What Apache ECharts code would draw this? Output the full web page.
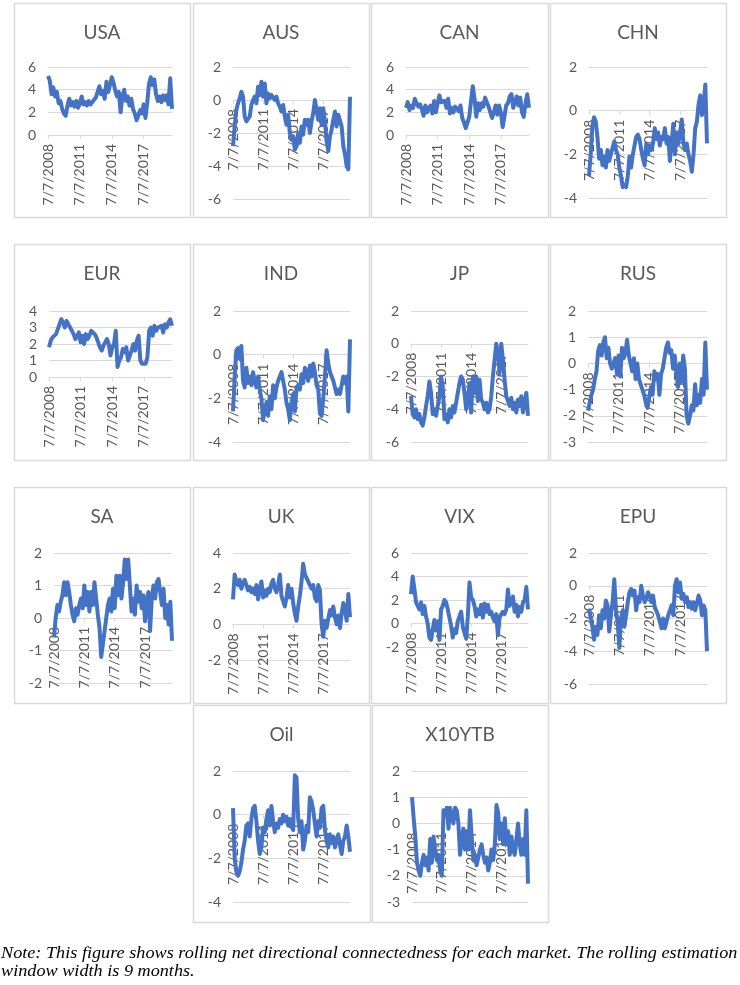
<!DOCTYPE html>
<html><head><meta charset="utf-8">
<script src="https://cdn.jsdelivr.net/npm/echarts@6/dist/echarts.min.js"></script>
<style>html,body{margin:0;padding:0;background:#fff;} #c{width:740px;height:985px;}</style>
</head><body><div id="c"></div>
<script>
// ---- data ----
const categories = ("7/7/2008 9/7/2008 11/7/2008 " +
 "1/7/2009 3/7/2009 5/7/2009 7/7/2009 9/7/2009 11/7/2009 " +
 "1/7/2010 3/7/2010 5/7/2010 7/7/2010 9/7/2010 11/7/2010 " +
 "1/7/2011 3/7/2011 5/7/2011 7/7/2011 9/7/2011 11/7/2011 " +
 "1/7/2012 3/7/2012 5/7/2012 7/7/2012 9/7/2012 11/7/2012 " +
 "1/7/2013 3/7/2013 5/7/2013 7/7/2013 9/7/2013 11/7/2013 " +
 "1/7/2014 3/7/2014 5/7/2014 7/7/2014 9/7/2014 11/7/2014 " +
 "1/7/2015 3/7/2015 5/7/2015 7/7/2015 9/7/2015 11/7/2015 " +
 "1/7/2016 3/7/2016 5/7/2016 7/7/2016 9/7/2016 11/7/2016 " +
 "1/7/2017 3/7/2017 5/7/2017 7/7/2017 9/7/2017 11/7/2017 " +
 "1/7/2018 3/7/2018 5/7/2018 7/7/2018 9/7/2018 11/7/2018 " +
 "1/7/2019 3/7/2019 5/7/2019 7/7/2019 9/7/2019 11/7/2019 " +
 "1/7/2020 3/7/2020").split(" ");
const tickLabels = ["7/7/2008", "7/7/2011", "7/7/2014", "7/7/2017"];

const usa = [5.2,4.8,3.6,4.2,3.4,3.8,2.8,3.0,2.3,1.9,1.7,2.6,3.2,2.6,2.9,2.5,3.0,2.4,2.8,3.4,2.7,2.9,2.6,3.0,2.7,2.9,2.8,3.3,3.8,4.3,3.6,3.9,3.2,4.7,3.8,4.4,5.1,4.6,3.9,3.4,3.8,2.0,3.4,4.0,3.0,3.4,2.6,3.2,2.3,1.9,1.3,1.7,2.2,1.9,2.7,1.5,2.8,4.5,5.1,4.4,4.9,3.6,3.0,3.4,2.9,3.5,3.1,3.5,2.7,5.0,2.3];
const aus = [-2.8,-1.6,-0.6,-0.2,0.1,0.5,0.2,-1.0,-1.3,-1.4,-1.0,-0.3,0.0,0.2,-0.2,0.8,0.3,1.1,0.2,1.0,-0.2,0.4,0.1,0.3,0.4,0.0,0.2,-0.2,-0.4,-0.7,-0.3,-1.0,-1.5,-0.9,-2.0,-2.4,-2.2,-3.0,-2.8,-2.0,-2.6,-1.6,-2.1,-1.2,-1.5,-1.2,-2.0,-1.3,-0.8,0.0,-0.6,-1.2,-0.5,-1.5,-0.5,-1.3,-2.5,-3.1,-2.2,-1.8,-1.2,-0.7,-1.6,-0.9,-1.0,-1.6,-2.8,-3.3,-4.0,-4.2,0.2];
const can = [2.4,2.9,2.2,2.6,2.4,3.2,2.8,2.5,2.7,2.3,1.7,2.6,2.0,2.4,2.6,1.9,3.0,2.0,2.8,3.5,2.9,2.8,3.0,2.4,3.2,1.9,2.4,2.0,2.5,2.4,2.1,2.6,1.5,1.1,0.6,0.5,1.6,3.0,4.3,3.2,1.6,2.8,2.2,2.8,2.5,3.3,3.4,2.5,2.0,1.5,2.0,2.6,1.8,2.6,2.0,0.7,1.6,2.6,2.8,3.4,3.6,2.4,2.9,3.4,2.6,3.3,2.0,1.6,2.8,3.6,2.4];
const chn = [-3.0,-2.0,-0.7,-0.3,-0.5,-1.2,-2.2,-1.8,-2.5,-2.1,-2.6,-1.8,-2.3,-2.0,-1.7,-1.4,-1.8,-2.0,-2.6,-3.0,-3.5,-3.4,-3.5,-3.0,-2.1,-2.6,-2.0,-1.6,-1.2,-1.1,-1.3,-1.8,-2.2,-2.5,-1.5,-2.0,-1.6,-1.8,-1.5,-0.8,-1.3,-1.0,-1.6,-1.2,-1.3,-0.8,-1.5,-1.2,-2.3,-1.5,-0.6,-2.0,-1.0,-1.5,-1.0,-0.4,-1.5,-1.8,-1.5,-2.0,-2.3,-2.8,-2.0,-0.8,-0.5,0.3,0.7,-0.2,0.3,1.2,-1.5];
const eur = [1.8,2.2,2.4,2.5,2.6,2.9,3.2,3.5,3.3,3.0,3.4,3.3,3.0,2.8,2.6,2.3,2.2,2.7,2.1,2.5,2.0,2.6,2.3,2.5,2.8,2.7,2.6,2.4,2.1,1.8,1.6,1.9,1.8,2.3,2.0,1.3,1.8,2.0,2.8,0.6,1.0,1.2,1.7,1.5,1.8,1.0,1.3,1.6,2.0,1.6,2.2,2.5,1.0,0.8,0.7,0.8,1.2,2.8,3.0,2.5,3.1,2.8,3.0,2.9,3.1,2.7,3.2,3.0,3.3,3.5,3.1];
const ind = [-2.6,-1.0,0.2,0.3,-0.2,0.4,-1.2,-1.5,-0.6,-1.3,-1.0,-1.4,-0.8,-1.2,-1.5,-1.0,-1.6,-2.0,-3.0,-2.5,-2.2,-2.8,-1.9,-2.5,-1.4,-2.0,-1.5,-1.2,-1.0,-0.8,-1.2,-1.6,-2.2,-2.5,-3.0,-2.2,-1.8,-2.6,-1.5,-1.4,-1.6,-0.9,-1.3,-0.6,-0.8,-1.2,-0.5,-1.0,-0.4,-0.8,-1.4,-1.6,-2.7,-2.8,-2.0,-1.0,0.2,-0.4,-0.8,-1.0,-1.2,-1.5,-1.8,-1.6,-1.8,-1.4,-1.0,-1.3,-1.0,-2.6,0.7];
const jp = [-3.2,-4.3,-4.5,-4.0,-4.6,-4.3,-4.8,-5.0,-4.5,-3.8,-3.2,-2.3,-3.0,-4.3,-4.0,-4.4,-3.8,-3.2,-2.0,-2.6,-4.6,-4.3,-4.8,-4.0,-4.5,-3.8,-4.2,-3.6,-3.0,-2.4,-2.0,-2.2,-3.0,-4.0,-3.4,-2.4,-4.2,-2.0,-3.0,-2.0,-3.5,-2.2,-3.4,-3.6,-4.0,-3.6,-4.2,-4.0,-3.2,-2.0,-1.0,0.0,-0.5,-1.8,0.0,-1.0,-2.2,-3.2,-3.5,-3.8,-3.3,-4.0,-3.6,-4.2,-3.4,-3.8,-3.2,-4.2,-3.5,-3.0,-4.4];
const rus = [-1.8,-1.5,-1.2,-1.0,-0.6,-0.3,0.5,0.7,0.3,0.8,1.0,0.2,0.6,0.0,-0.2,0.0,0.2,-0.4,0.3,-0.5,0.6,0.2,0.4,0.9,0.3,0.0,-0.3,0.2,-0.6,0.0,-0.6,-0.8,-1.0,-1.2,-1.5,-1.7,-1.3,-0.9,-1.2,-0.3,-0.6,-0.4,-1.2,-0.4,-0.2,0.2,0.6,0.8,0.4,0.5,-0.2,0.3,-0.4,-0.9,0.0,-0.7,0.3,-0.2,-2.0,-2.3,-2.0,-1.6,-1.8,-0.8,-1.6,-1.2,-1.5,-0.6,-1.2,0.8,-1.0];
const sa = [-0.6,0.0,0.4,0.2,0.5,0.7,1.1,0.7,1.1,0.8,0.4,0.1,-0.1,0.3,0.1,0.4,0.6,0.3,1.0,0.4,0.8,0.2,0.8,0.4,1.1,0.6,0.1,-0.3,-1.2,-0.8,-0.4,0.0,0.4,0.6,0.2,0.9,0.3,1.3,0.7,1.3,0.6,1.1,1.8,1.2,1.8,1.0,0.2,0.6,0.1,1.0,0.5,0.8,0.3,0.7,-0.1,0.5,0.8,-0.4,0.6,1.0,0.6,1.1,1.2,0.8,0.4,0.9,0.0,0.4,-0.2,0.5,-0.7];
const uk = [1.4,2.8,2.4,2.2,2.5,2.0,2.3,2.5,2.2,1.9,2.1,1.8,2.0,1.7,2.2,1.4,2.0,2.4,1.5,1.9,1.6,2.0,1.8,2.3,2.5,2.0,1.8,2.2,2.8,1.6,1.3,1.0,1.5,2.2,1.5,2.0,1.2,0.6,0.2,1.0,1.6,2.4,3.4,2.8,2.6,2.4,2.5,2.0,2.2,1.5,1.3,2.2,1.9,0.0,-0.7,0.2,-0.2,0.3,0.8,0.5,1.0,0.4,0.0,0.5,-0.2,0.6,1.2,0.8,0.2,1.7,0.4];
const vix = [2.5,4.0,3.0,1.8,1.5,1.2,1.8,0.8,1.5,0.6,0.0,-1.2,-1.4,-0.5,0.3,-0.6,0.2,-1.4,1.2,1.5,2.0,1.8,1.2,0.5,-0.2,-1.2,-0.5,-0.8,0.2,0.6,1.0,-0.3,-0.2,-1.3,0.6,3.5,2.2,2.0,1.5,0.6,1.2,0.8,1.6,0.5,1.7,1.0,1.6,0.8,1.0,0.5,0.2,0.8,-1.0,0.5,0.8,1.0,0.8,1.2,2.9,1.5,1.8,2.3,1.0,1.6,0.6,1.4,1.0,1.8,2.0,3.1,1.2];
const epu = [-1.4,-1.5,-2.5,-3.3,-2.5,-3.0,-1.8,-2.6,-1.5,-2.0,-0.9,-1.2,-2.8,-1.8,-1.0,0.4,-1.5,-2.2,-3.8,-2.0,-1.5,-2.5,-1.8,-1.0,-0.4,-0.2,-0.6,-0.3,-1.5,-0.7,-1.0,0.0,-0.6,-1.0,-0.8,-0.4,-0.6,-1.0,-0.6,-1.3,-1.2,-1.8,-2.2,-2.6,-2.0,-2.6,-2.2,-1.8,-1.5,-1.2,-1.8,0.0,0.4,-0.4,0.2,-0.8,-0.5,-1.0,-0.7,-1.3,-1.0,-1.4,-1.0,-1.5,-1.1,-0.6,-0.9,-1.8,-1.2,-1.5,-4.0];
const oil = [0.3,-2.0,-2.6,-2.8,-2.6,-2.2,-1.6,-1.2,-0.5,-0.4,-1.0,-0.2,0.3,0.4,-0.3,-1.2,-1.8,-1.5,-0.6,-0.8,-0.2,0.2,-0.5,0.4,-0.3,-0.8,-0.4,-0.6,-0.2,-0.4,0.0,-0.3,-0.1,-0.5,-0.2,-0.5,-0.7,1.8,1.7,-0.2,-0.8,-0.3,-1.6,-1.2,-0.5,-0.8,0.8,0.6,0.2,-0.4,-1.0,-0.3,-0.6,0.3,0.4,-0.7,-1.2,-1.5,-0.9,-1.3,-1.0,-1.5,-1.2,-0.9,-1.4,-1.8,-1.2,-1.0,-0.5,-1.0,-1.7];
const x10ytb = [1.0,0.2,-0.5,-1.5,-1.8,-2.0,-1.5,-1.2,-1.6,-1.3,-1.8,-0.6,-1.5,-0.5,-1.0,-1.4,-1.2,-1.8,-2.0,0.5,0.3,0.6,-0.2,0.6,0.3,0.0,0.6,0.5,0.0,-1.2,-0.6,-0.2,-1.0,-0.3,-1.0,0.5,-0.5,-1.4,-1.2,-1.6,-1.3,-1.0,-0.8,-1.2,-1.5,-1.3,-1.8,-1.5,-1.0,-1.4,-0.8,0.7,0.4,-0.6,0.0,-0.8,0.2,-0.8,-0.3,-1.2,-0.5,-1.0,-1.2,-0.6,0.0,-0.8,-1.2,-0.6,-1.2,0.5,-2.3];

const panelNames = ["USA","AUS","CAN","CHN","EUR","IND","JP","RUS","SA","UK","VIX","EPU","Oil","X10YTB"];
const panelSeries = [usa,aus,can,chn,eur,ind,jp,rus,sa,uk,vix,epu,oil,x10ytb];
const yMins  = [0,-6,0,-4, 0,-4,-6,-3, -2,-2,-2,-6, -4,-3];
const yMaxs  = [6, 2,6, 2, 4, 2, 2, 2,  2, 4, 6, 2,  2, 2];
const ySteps = [2, 2,2, 2, 1, 2, 2, 1,  1, 2, 2, 2,  2, 1];

const noteLine1 = "Note: This figure shows rolling net directional connectedness for each market. The rolling estimation";
const noteLine2 = "window width is 9 months.";

// ---- layout (pixels) ----
// panel box: [x0, y0, x1, y1]; plot: [left, top, right, bottom]
const layout = [
  {box:[14,3,190,217],   plot:[48,67,172,135]},
  {box:[193,3,369,217],  plot:[233,67,350,199]},
  {box:[371,3,548,217],  plot:[406,67,529,135]},
  {box:[550,3,726,217],  plot:[589,67,707,198]},
  {box:[14,244,190,460], plot:[49,311,172,377]},
  {box:[193,244,369,460],plot:[233,311,350,442]},
  {box:[371,244,548,460],plot:[411,311,528,442]},
  {box:[550,244,726,460],plot:[588,311,707,442]},
  {box:[14,487,190,703], plot:[54,553,172,683]},
  {box:[193,487,369,703],plot:[233,553,350,660]},
  {box:[371,487,548,703],plot:[411,553,528,647]},
  {box:[550,487,726,703],plot:[589,553,707,684]},
  {box:[193,705,370,922],plot:[233,771,350,902]},
  {box:[372,705,548,922],plot:[412,771,528,902]}
];

const FONT = "Lato, 'Open Sans', sans-serif";
const GREY_TXT = "#595959";
const GRID_COL = "#d9d9d9";
const isTick = (idx, val) => tickLabels.indexOf(val) >= 0;

const grids = [], xAxes = [], yAxes = [], series = [], graphics = [];
layout.forEach((L, i) => {
  const [l, t, r, b] = L.plot;
  const h = b - t;
  // category axis crosses the value axis at 0 (Excel style)
  const zeroShift = -h * (0 - yMins[i]) / (yMaxs[i] - yMins[i]);
  grids.push({left: l, top: t, width: r - l, height: h, containLabel: false});
  xAxes.push({
    type: "category", gridIndex: i, data: categories, boundaryGap: false,
    position: "bottom", offset: zeroShift,
    axisLine: {onZero: false, lineStyle: {color: GRID_COL, width: 1}},
    axisTick: {show: true, interval: isTick, length: 4, lineStyle: {color: GRID_COL}},
    axisLabel: {interval: isTick, rotate: 90, margin: 9, color: GREY_TXT, fontSize: 14, fontFamily: FONT},
    splitLine: {show: false}
  });
  yAxes.push({
    type: "value", gridIndex: i, min: yMins[i], max: yMaxs[i], interval: ySteps[i],
    axisLine: {show: false}, axisTick: {show: false},
    axisLabel: {color: GREY_TXT, fontSize: 14, fontFamily: FONT, margin: 12},
    splitLine: {lineStyle: {color: GRID_COL, width: 1}}
  });
  series.push({
    type: "line", xAxisIndex: i, yAxisIndex: i, data: panelSeries[i],
    showSymbol: false, symbol: "none", silent: true, z: 5,
    lineStyle: {color: "#4472C4", width: 4, join: "round"}
  });
  const [x0, y0, x1, y1] = L.box;
  graphics.push({
    type: "rect", silent: true, z: -1,
    shape: {x: x0 + 0.5, y: y0 + 0.5, width: x1 - x0, height: y1 - y0},
    style: {fill: "#fff", stroke: GRID_COL, lineWidth: 1.5}
  });
  graphics.push({
    type: "text", silent: true,
    x: (x0 + x1) / 2, y: y0 + 30,
    style: {text: panelNames[i], fill: GREY_TXT, font: "19px " + FONT, textAlign: "center", textVerticalAlign: "middle"}
  });
});
const NOTE_FONT = "italic 17.5px 'Liberation Serif', 'Times New Roman', serif";
graphics.push({
  type: "text", silent: true, x: 1, y: 953, scaleX: 1.04,
  style: {text: noteLine1, fill: "#000", font: NOTE_FONT, textVerticalAlign: "middle"}
});
graphics.push({
  type: "text", silent: true, x: 1, y: 971, scaleX: 1.04,
  style: {text: noteLine2, fill: "#000", font: NOTE_FONT, textVerticalAlign: "middle"}
});

const chart = echarts.init(document.getElementById("c"), null, {renderer: "canvas"});
chart.setOption({
  backgroundColor: "#fff",
  animation: false,
  grid: grids, xAxis: xAxes, yAxis: yAxes, series: series,
  graphic: graphics
});
</script></body></html>
